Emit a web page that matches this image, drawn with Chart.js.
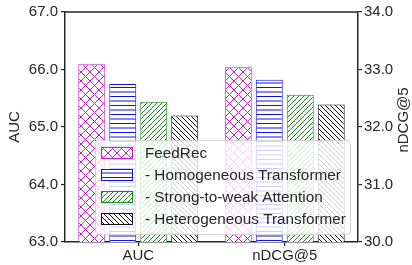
<!DOCTYPE html>
<html>
<head>
    <title>FeedRec ablation</title>
    <style>
        body { margin: 0; padding: 0; background: #fff; }
        #wrap { width: 412px; height: 265px; }
    </style>
    <script src="https://cdn.jsdelivr.net/npm/chart.js"></script>
</head>
<body>
    <div id="wrap">
        <canvas id="ablationChart" width="412" height="265"></canvas>
    </div>

    <script>
        const categories = ['AUC', 'nDCG@5'];
        const seriesNames = ['FeedRec', '- Homogeneous Transformer', '- Strong-to-weak Attention', '- Heterogeneous Transformer'];
        const aucValues = [66.09, 65.75, 65.44, 65.20];
        const ndcgValues = [33.04, 32.82, 32.56, 32.39];
        const aucTicks = [63, 64, 65, 66, 67];
        const ndcgTicks = [30, 31, 32, 33, 34];

        const colors = ['#c51fc5', '#1010f5', '#178a17', '#111111'];
        const hatches = ['x', '-', '/', '\\'];
        const ink = '#262626';
        const fontFamily = "'Liberation Sans', Arial, sans-serif";

        // build a small tile with the hatch drawn on white
        function makeHatch(color, kind) {
            const s = kind === 'x' ? 9 : (kind === '-' ? 9 : 10);
            const c = document.createElement('canvas');
            c.width = s; c.height = s;
            const g = c.getContext('2d');
            g.fillStyle = '#fff';
            g.fillRect(0, 0, s, s);
            g.strokeStyle = color;
            g.lineWidth = 1;
            g.beginPath();
            if (kind === 'x') {
                for (const k of [-s, 0, s]) {
                    g.moveTo(k, 0); g.lineTo(k + s, s);
                    g.moveTo(k, s); g.lineTo(k + s, 0);
                }
            } else if (kind === '-') {
                g.moveTo(0, 2); g.lineTo(s, 2);
                g.moveTo(0, 6.5); g.lineTo(s, 6.5);
            } else if (kind === '/') {
                for (const k of [-s, -s / 2, 0, s / 2, s]) {
                    g.moveTo(k, s); g.lineTo(k + s, 0);
                }
            } else {
                for (const k of [-s, -s / 2, 0, s / 2, s]) {
                    g.moveTo(k, 0); g.lineTo(k + s, s);
                }
            }
            g.stroke();
            return g.createPattern(c, 'repeat');
        }

        const patterns = colors.map((col, i) => makeHatch(col, hatches[i]));

        const datasets = [];
        seriesNames.forEach((name, i) => {
            datasets.push({
                label: name,
                data: [aucValues[i], null],
                yAxisID: 'y',
                backgroundColor: patterns[i],
                borderColor: colors[i],
                borderWidth: 1,
                borderSkipped: false,
                skipNull: true
            });
        });
        seriesNames.forEach((name, i) => {
            datasets.push({
                label: name,
                data: [null, ndcgValues[i]],
                yAxisID: 'y2',
                backgroundColor: patterns[i],
                borderColor: colors[i],
                borderWidth: 1,
                borderSkipped: false,
                skipNull: true
            });
        });

        const frame = {
            id: 'frame',
            afterDatasetsDraw(chart) {
                const ctx = chart.ctx;
                const a = chart.chartArea;
                ctx.save();
                // top spine
                ctx.strokeStyle = ink;
                ctx.lineWidth = 1.5;
                ctx.beginPath();
                ctx.moveTo(a.left, a.top);
                ctx.lineTo(a.right, a.top);
                ctx.stroke();

                // legend box
                const bx = 95, by = 140, bw = 255, bh = 94;
                ctx.fillStyle = 'rgba(255,255,255,0.8)';
                ctx.strokeStyle = 'rgba(204,204,204,0.8)';
                ctx.lineWidth = 1;
                ctx.beginPath();
                ctx.roundRect(bx + 0.5, by + 0.5, bw, bh, 3);
                ctx.fill();
                ctx.stroke();

                ctx.font = '15.3px ' + fontFamily;
                ctx.textBaseline = 'middle';
                ctx.textAlign = 'left';
                seriesNames.forEach((name, i) => {
                    const cy = 153 + i * 22;
                    ctx.fillStyle = patterns[i];
                    ctx.fillRect(101, cy - 6, 32, 12);
                    ctx.strokeStyle = colors[i];
                    ctx.strokeRect(101.5, cy - 5.5, 31, 11);
                    ctx.fillStyle = ink;
                    ctx.fillText(name, 145, cy + 1);
                });

                // right axis title reads upward like the left one
                ctx.font = '15px ' + fontFamily;
                ctx.translate(404, 120);
                ctx.rotate(-Math.PI / 2);
                ctx.textAlign = 'center';
                ctx.fillText('nDCG@5', 0, 0);
                ctx.restore();
            }
        };

        const tickFont = { family: fontFamily, size: 15 };
        const axisGrid = { display: true, drawOnChartArea: false, drawTicks: true, tickLength: 4, color: ink, lineWidth: 1.2, offset: false };
        const axisBorder = { display: true, color: ink, width: 1.5 };

        new Chart(document.getElementById('ablationChart').getContext('2d'), {
            type: 'bar',
            data: { labels: categories, datasets: datasets },
            plugins: [frame],
            options: {
                responsive: false,
                animation: false,
                categoryPercentage: 0.846,
                barPercentage: 0.87,
                layout: { padding: { top: 11, left: 0, right: 0, bottom: 0 } },
                plugins: {
                    legend: { display: false },
                    tooltip: { enabled: false }
                },
                scales: {
                    x: {
                        grid: axisGrid,
                        border: axisBorder,
                        ticks: { font: tickFont, color: ink, padding: 1 },
                        afterFit: s => { s.height = 23; }
                    },
                    y: {
                        position: 'left',
                        min: 63,
                        max: 67,
                        afterBuildTicks: s => { s.ticks = aucTicks.map(v => ({ value: v })); },
                        ticks: { font: tickFont, color: ink, padding: 3, callback: v => Number(v).toFixed(1) },
                        grid: axisGrid,
                        border: axisBorder,
                        title: { display: true, text: 'AUC', color: ink, font: tickFont, padding: { top: 6 } },
                        afterFit: s => { s.width = 65; }
                    },
                    y2: {
                        position: 'right',
                        min: 30,
                        max: 34,
                        afterBuildTicks: s => { s.ticks = ndcgTicks.map(v => ({ value: v })); },
                        ticks: { font: tickFont, color: ink, padding: 2, callback: v => Number(v).toFixed(1) },
                        grid: axisGrid,
                        border: axisBorder,
                        afterFit: s => { s.width = 54; }
                    }
                }
            }
        });
    </script>
</body>
</html>
